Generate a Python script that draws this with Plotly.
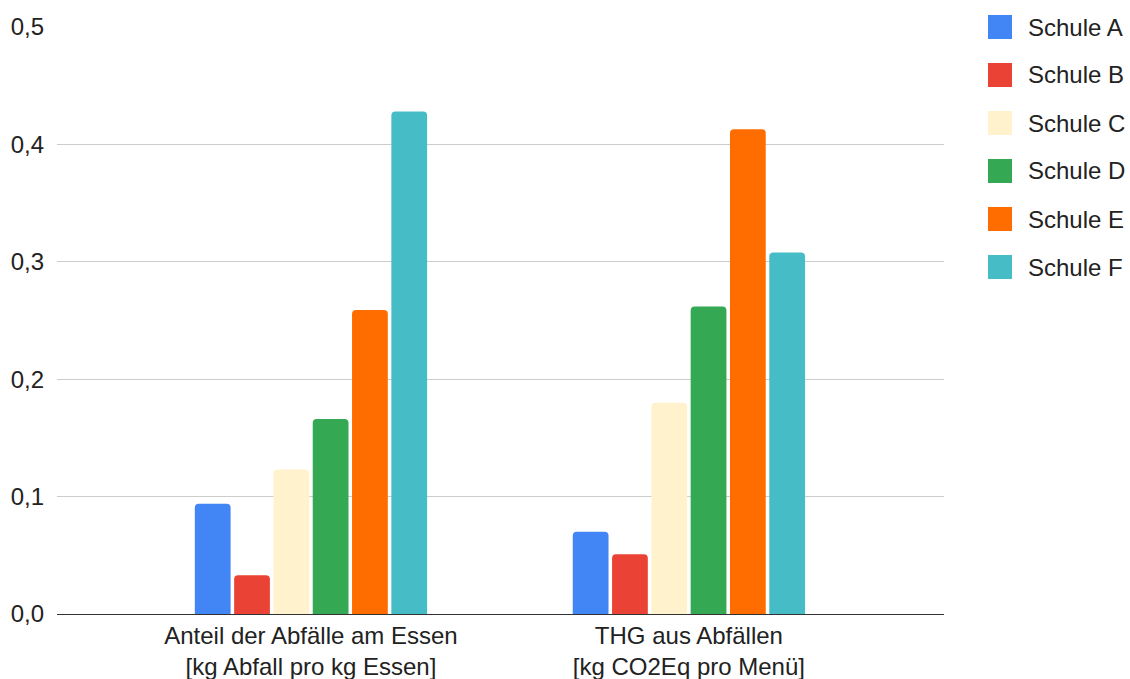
import plotly.graph_objects as go

categories = ["Anteil der Abfälle am Essen<br>[kg Abfall pro kg Essen]",
              "THG aus Abfällen<br>[kg CO2Eq pro Menü]"]
series_names = ["Schule A", "Schule B", "Schule C", "Schule D", "Schule E", "Schule F"]
schule_a = [0.094, 0.070]
schule_b = [0.033, 0.051]
schule_c = [0.123, 0.180]
schule_d = [0.166, 0.262]
schule_e = [0.259, 0.413]
schule_f = [0.428, 0.308]
series_values = [schule_a, schule_b, schule_c, schule_d, schule_e, schule_f]
colors = ["#4285F4", "#EA4335", "#FFF2CC", "#34A853", "#FF6D01", "#46BDC6"]
y_ticks = [0.0, 0.1, 0.2, 0.3, 0.4, 0.5]

W, H = 1130, 679
L, R, T, B = 57, 944, 27, 614
FONT = "Liberation Sans, Arial, sans-serif"
FS = 24
TXT = "#222222"

fig = go.Figure()
for name, vals, col in zip(series_names, series_values, colors):
    fig.add_trace(go.Bar(x=[0, 1], y=vals, name=name, marker_color=col,
                         marker_line_width=0, showlegend=False))

def px2paper_x(p):
    return (p - L) / (R - L)

def px2paper_y(p):
    return (B - p) / (B - T)

shapes = []
annotations = []
for i, (name, col) in enumerate(zip(series_names, colors)):
    cy = 27 + 48 * i
    shapes.append(dict(type="rect", xref="paper", yref="paper",
                       x0=px2paper_x(988), x1=px2paper_x(1012),
                       y0=px2paper_y(cy + 12), y1=px2paper_y(cy - 12),
                       fillcolor=col, line=dict(width=0), layer="above"))
    annotations.append(dict(xref="paper", yref="paper", x=px2paper_x(1026),
                            y=px2paper_y(cy), text=name, showarrow=False,
                            xanchor="left", yanchor="middle",
                            font=dict(family=FONT, size=FS, color=TXT)))

fig.update_layout(
    width=W, height=H,
    margin=dict(l=L, r=W - R, t=T, b=H - B, pad=0, autoexpand=False),
    paper_bgcolor="white", plot_bgcolor="white",
    separators=",.",
    barmode="group", bargap=0.376, bargroupgap=0.09,
    barcornerradius=4,
    font=dict(family=FONT, size=FS, color=TXT),
    shapes=shapes, annotations=annotations,
    xaxis=dict(tickmode="array", tickvals=[0, 1], ticktext=categories,
               range=[-0.672, 1.675], showgrid=False, zeroline=False,
               showline=True, linecolor="#333333", linewidth=1.3,
               ticks="", automargin=False,
               tickfont=dict(family=FONT, size=FS, color=TXT)),
    yaxis=dict(range=[0, 0.5], tickvals=y_ticks, tickformat=".1f",
               showgrid=True, gridcolor="#CCCCCC", gridwidth=1,
               zeroline=False, showline=False, ticks="", automargin=False,
               ticklabelstandoff=12,
               tickfont=dict(family=FONT, size=FS, color=TXT)),
)

fig.write_html("out.html")
